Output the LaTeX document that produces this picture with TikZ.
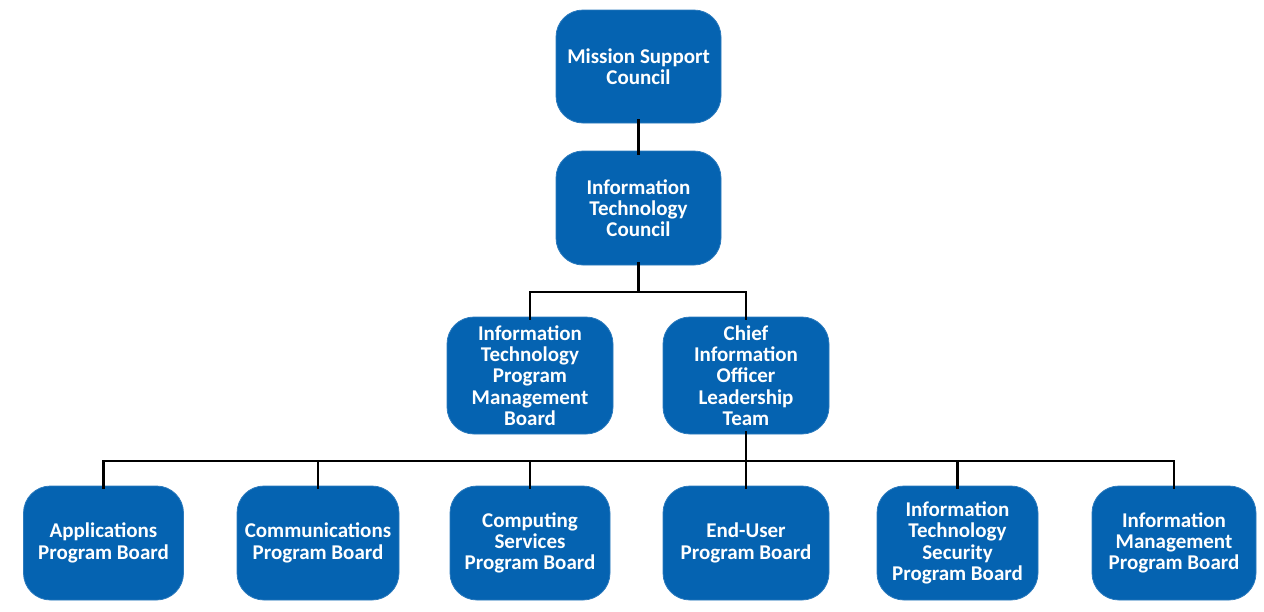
\documentclass[tikz,border=0pt]{standalone}
\usepackage{fontspec}
\setmainfont{Carlito}
\definecolor{boxblue}{RGB}{5,99,177}
\begin{document}
\begin{tikzpicture}[x=1pt,y=-1pt,
  unit/.style={draw=boxblue!85!white, line width=0.8pt, fill=boxblue, rounded corners=27pt,
    text=white, font=\bfseries\fontsize{21}{21.3}\selectfont, align=center,
    inner sep=0pt, anchor=center},
  link/.style={draw=black, line width=2.8pt}]
\useasboundingbox (0,0) rectangle (1264,611);
% top levels
\node[unit, minimum width=165pt, minimum height=113pt] (msc) at (638.5,66.5) {Mission Support\\Council};
\node[unit, minimum width=165pt, minimum height=114pt] (itc) at (638.5,208) {Information\\Technology\\Council};
% middle level
\node[unit, minimum width=166pt, minimum height=117pt] (itpmb) at (530,375.5) {Information\\Technology\\Program\\Management\\Board};
\node[unit, minimum width=166pt, minimum height=117pt] (cio) at (746,375.5) {Chief\\Information\\Officer\\Leadership\\Team};
% program boards
\node[unit, minimum width=160pt, minimum height=114pt] (app) at (103.5,543) {Applications\\Program Board};
\node[unit, minimum width=162pt, minimum height=114pt] (comm) at (318,543) {Communications\\Program Board};
\node[unit, minimum width=160pt, minimum height=114pt] (comp) at (530,543) {Computing\\Services\\Program Board};
\node[unit, minimum width=166pt, minimum height=114pt] (eu) at (746,543) {End-User\\Program Board};
\node[unit, minimum width=161pt, minimum height=114pt] (sec) at (957.5,543) {Information\\Technology\\Security\\Program Board};
\node[unit, minimum width=164pt, minimum height=114pt] (im) at (1174,543) {Information\\Management\\Program Board};
% bus junctions
\coordinate (busA) at (638.5,292);
\coordinate (busB) at (746,461);
% connectors
\draw[link] ([yshift=4pt]msc.south) -- ([yshift=-4pt]itc.north);
\draw[link] ([yshift=3pt]itc.south) -- (busA);
\draw[link] ([yshift=-3pt]itpmb.north) |- (busA) -| ([yshift=-3pt]cio.north);
\draw[link] ([yshift=3pt]cio.south) -- (busB);
\draw[link] ([yshift=-3pt]app.north) |- (busB);
\draw[link] ([yshift=-3pt]im.north) |- (busB);
\foreach \n in {comm,comp,eu,sec}
  \draw[link] ([yshift=-3pt]\n.north) -- (\n.north |- busB);
\end{tikzpicture}
\end{document}
